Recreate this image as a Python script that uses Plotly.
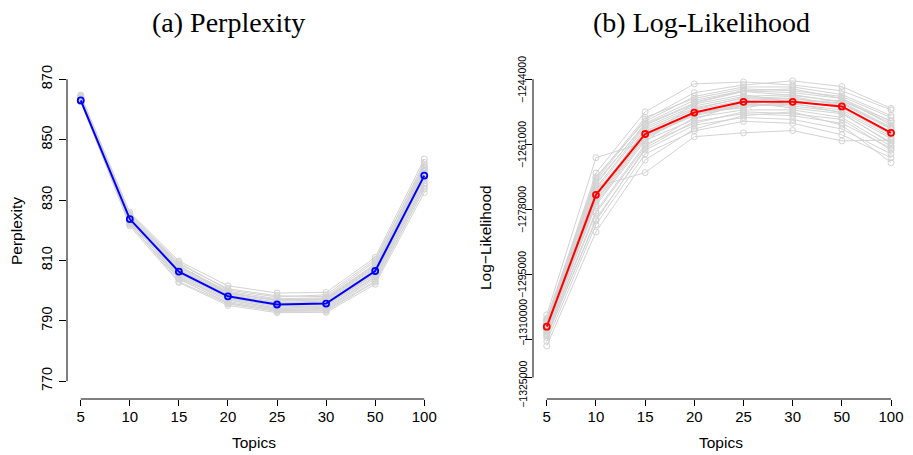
import plotly.graph_objects as go

# ---------------- data ----------------
topics = ["5", "10", "15", "20", "25", "30", "50", "100"]

perp_runs = [
    [864.8, 825.9, 809.8, 801.6, 799.2, 799.4, 811.0, 843.6],
    [862.7, 821.4, 802.7, 795.1, 792.7, 792.8, 802.1, 832.5],
    [863.9, 824.6, 808.1, 799.8, 797.3, 797.6, 808.9, 841.2],
    [862.9, 822.8, 804.6, 796.4, 793.9, 793.8, 803.9, 834.7],
    [863.4, 824.1, 807.2, 798.9, 796.1, 796.5, 807.5, 839.6],
    [863.1, 823.2, 805.4, 797.4, 794.6, 794.9, 805.2, 836.4],
    [864.2, 825.3, 808.8, 800.6, 798.3, 798.0, 809.7, 842.5],
    [862.8, 822.1, 803.8, 796.0, 793.4, 793.5, 803.2, 833.6],
    [863.6, 824.4, 806.9, 798.6, 795.8, 796.2, 806.8, 838.9],
    [863.2, 823.5, 805.9, 797.8, 795.1, 795.3, 806.1, 837.3],
    [864.5, 823.9, 807.6, 799.3, 796.8, 797.1, 808.2, 840.4],
    [863.0, 822.6, 805.0, 796.9, 794.2, 794.4, 804.7, 835.6],
    [863.7, 824.9, 806.4, 798.3, 795.5, 795.9, 807.0, 838.2],
    [862.9, 823.0, 804.2, 797.1, 794.0, 795.0, 805.6, 836.9],
    [864.0, 825.6, 809.3, 800.2, 797.9, 798.6, 810.3, 841.8],
    [863.3, 822.3, 803.0, 795.6, 793.1, 793.2, 802.8, 833.9],
    [863.5, 823.8, 807.9, 799.5, 796.5, 796.9, 807.8, 839.9],
    [863.1, 824.0, 805.7, 797.6, 794.9, 795.6, 805.5, 837.7],
    [864.3, 825.0, 808.4, 799.0, 797.0, 797.3, 808.6, 840.8],
    [862.6, 821.9, 804.0, 795.8, 793.6, 794.2, 804.4, 835.3],
]
perp_mean = [863.0, 823.7, 806.3, 798.1, 795.4, 795.7, 806.5, 838.1]

ll_runs = [
    [-1305600, -1264500, -1260500, -1250000, -1247000, -1246500, -1249000, -1256000],
    [-1313700, -1283900, -1265100, -1257000, -1253500, -1252500, -1256000, -1265800],
    [-1307000, -1268500, -1252500, -1245200, -1244700, -1245500, -1247000, -1252000],
    [-1309500, -1272100, -1268400, -1259000, -1258000, -1257400, -1260100, -1259900],
    [-1308000, -1270500, -1254500, -1247500, -1245500, -1244400, -1245900, -1251600],
    [-1310500, -1278500, -1261000, -1255500, -1252500, -1253000, -1254500, -1262500],
    [-1308500, -1273000, -1256500, -1251000, -1248500, -1248000, -1250000, -1256500],
    [-1307500, -1271500, -1255500, -1249500, -1247000, -1247500, -1249000, -1255000],
    [-1309000, -1276000, -1259000, -1253500, -1251000, -1250500, -1252000, -1259000],
    [-1311500, -1280500, -1262500, -1256000, -1254000, -1254500, -1257000, -1263500],
    [-1308200, -1274000, -1257500, -1252000, -1249500, -1249000, -1250500, -1257000],
    [-1306500, -1269500, -1255000, -1248500, -1246000, -1246000, -1248000, -1253500],
    [-1310000, -1277000, -1260000, -1254500, -1250000, -1251500, -1253000, -1260500],
    [-1309200, -1275000, -1258500, -1252500, -1251500, -1249500, -1251500, -1258500],
    [-1307800, -1272500, -1256000, -1250500, -1248000, -1250000, -1249500, -1255500],
    [-1312500, -1282000, -1263500, -1257500, -1255000, -1255500, -1258500, -1264500],
    [-1308800, -1274500, -1257000, -1251500, -1249000, -1248500, -1251000, -1257800],
    [-1306800, -1270000, -1254000, -1249000, -1246500, -1247000, -1248500, -1254000],
    [-1310800, -1279000, -1261500, -1254000, -1252000, -1252000, -1254000, -1261500],
    [-1309800, -1276500, -1259500, -1253000, -1250500, -1251000, -1252500, -1259500],
    [-1308300, -1273500, -1257800, -1251800, -1248800, -1249200, -1250200, -1256800],
    [-1311000, -1281000, -1262000, -1255000, -1253000, -1253500, -1255500, -1262000],
    [-1307200, -1271000, -1255800, -1250200, -1247200, -1248200, -1249800, -1254800],
    [-1309600, -1275500, -1258800, -1253200, -1250800, -1250200, -1252800, -1260800],
]
ll_mean = [-1308700, -1274200, -1258300, -1252700, -1249900, -1249900, -1251100, -1258000]

perp_tick_vals = [770, 790, 810, 830, 850, 870]
perp_tick_text = ["770", "790", "810", "830", "850", "870"]
# tick marks on the log-likelihood axis
ll_tick_vals = [-1322000, -1312100, -1295000, -1278000, -1261000, -1244000]
# label texts and where each label is centred along that axis
ll_tick_text = ["\u22121325000", "\u22121310000", "\u22121295000",
                "\u22121278000", "\u22121261000", "\u22121244000"]
ll_label_pos = [-1323700, -1307500, -1295000, -1278000, -1261000, -1244000]

titles = ["(a) Perplexity", "(b) Log-Likelihood"]
y_titles = ["Perplexity", "Log\u2212Likelihood"]
x_title = "Topics"

# ---------------- figure ----------------
W, H = 913, 455
OFF = 8  # page body margin offset of the plot div
SANS = "Liberation Sans, Arial, Helvetica, sans-serif"
SERIF = "Liberation Serif, Times New Roman, serif"
GREY = "#D3D3D3"

fig = go.Figure()

def add_runs(runs, mean, color, xa, ya):
    for r in runs:
        fig.add_trace(go.Scatter(
            x=topics, y=r, mode="lines+markers", xaxis=xa, yaxis=ya,
            line=dict(color=GREY, width=1),
            marker=dict(symbol="circle-open", size=6, color=GREY, line=dict(width=1)),
            showlegend=False, hoverinfo="skip"))
    fig.add_trace(go.Scatter(
        x=topics, y=mean, mode="lines+markers", xaxis=xa, yaxis=ya,
        line=dict(color=color, width=2),
        marker=dict(symbol="circle-open", size=6, color=color, line=dict(width=1.8)),
        showlegend=False))

add_runs(perp_runs, perp_mean, "#0000FF", "x", "y")
add_runs(ll_runs, ll_mean, "#FF0000", "x2", "y2")

def px_x(p):
    return (p - OFF) / W

def px_y(p):
    return 1 - (p - OFF) / H

ydom = [px_y(399), px_y(67)]
x2dom = [px_x(533), px_x(904.8)]

xcommon = dict(type="category", range=[-0.28, 7.28], showline=False, showgrid=False,
               zeroline=False, ticks="outside", ticklen=6, tickwidth=1, tickcolor="black",
               automargin=False, ticklabelstandoff=-2,
               tickfont=dict(family=SANS, size=15, color="black"))

fig.update_layout(
    width=W, height=H, margin=dict(l=0, r=0, t=0, b=0, autoexpand=False),
    paper_bgcolor="white", plot_bgcolor="white",
    xaxis=dict(domain=[px_x(67), px_x(438)], anchor="y", **xcommon),
    xaxis2=dict(domain=x2dom, anchor="y2", **xcommon),
    yaxis=dict(domain=ydom, anchor="x", range=[764.1, 874.07], showline=False,
               showgrid=False, zeroline=False, ticks="outside", ticklen=7,
               tickwidth=1, tickcolor="black", tickvals=perp_tick_vals,
               ticktext=perp_tick_text, tickangle=-90, automargin=False,
               ticklabelstandoff=1,
               tickfont=dict(family=SANS, size=14.5, color="black")),
    yaxis2=dict(domain=ydom, anchor="x2", range=[-1327602, -1240784], showline=False,
                showgrid=False, zeroline=False, ticks="outside", ticklen=7,
                tickwidth=1, tickcolor="black", tickvals=ll_tick_vals,
                ticktext=[""] * len(ll_tick_vals), automargin=False),
)

# R-style axis lines spanning only the tick range
line_style = dict(color="black", width=1)
fig.add_shape(type="line", xref="x", yref="y domain", x0=0, x1=7, y0=0, y1=0, line=line_style)
fig.add_shape(type="line", xref="x2", yref="y2 domain", x0=0, x1=7, y0=0, y1=0, line=line_style)
fig.add_shape(type="line", xref="x domain", yref="y", x0=0, x1=0,
              y0=perp_tick_vals[0], y1=perp_tick_vals[-1], line=line_style)
fig.add_shape(type="line", xref="x2 domain", yref="y2", x0=0, x1=0,
              y0=ll_tick_vals[0], y1=ll_tick_vals[-1], line=line_style)

# log-likelihood tick labels (vertical, R style)
lab_x = (522.7 - 533) / (x2dom[1] - x2dom[0]) / W
for txt, pos in zip(ll_tick_text, ll_label_pos):
    fig.add_annotation(text=txt, x=lab_x, y=pos, xref="x2 domain", yref="y2",
                       xanchor="center", yanchor="middle", showarrow=False,
                       textangle=-90, font=dict(family=SANS, size=10.5, color="black"))

def note(text, x, y, size, family, angle=0):
    fig.add_annotation(text=text, x=px_x(x), y=px_y(y), xref="paper", yref="paper",
                       xanchor="center", yanchor="middle", showarrow=False,
                       textangle=angle, font=dict(family=family, size=size, color="black"))

# titles
note(titles[0], 228, 22.5, 28, SERIF)
note(titles[1], 701, 22.5, 28, SERIF)
# axis titles
note(x_title, 254, 442, 15.5, SANS)
note(x_title, 721, 442, 15.5, SANS)
note(y_titles[0], 16, 231, 15.5, SANS, -90)
note(y_titles[1], 485, 238, 15.5, SANS, -90)

fig.write_html("out.html")
